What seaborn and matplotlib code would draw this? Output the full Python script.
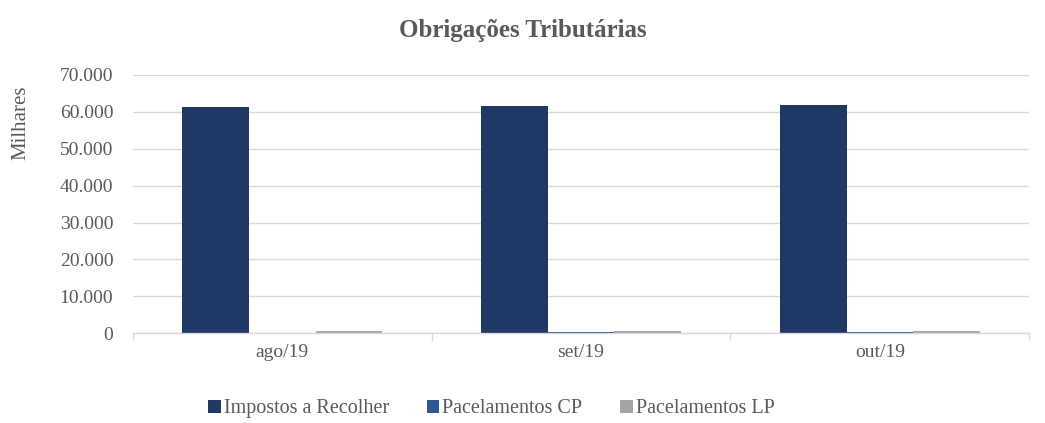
import pandas as pd
import matplotlib.pyplot as plt
import seaborn as sns
from matplotlib.ticker import FuncFormatter

months = ['ago/19', 'set/19', 'out/19']
impostos = [61350, 61600, 61800]
parc_cp = [0, 300, 300]
parc_lp = [600, 600, 600]
series = ['Impostos a Recolher', 'Pacelamentos CP', 'Pacelamentos LP']
colors = ['#203864', '#2F5597', '#A5A5A5']

df = pd.DataFrame({
    'mes': months * 3,
    'serie': [series[0]] * 3 + [series[1]] * 3 + [series[2]] * 3,
    'valor': impostos + parc_cp + parc_lp,
})

sns.set_style('white')
plt.rcParams['font.family'] = ['Liberation Serif', 'DejaVu Serif']

fig, ax = plt.subplots(figsize=(10.45, 4.23), dpi=100)
fig.subplots_adjust(left=0.127, right=0.985, top=0.823, bottom=0.212)

sns.barplot(data=df, x='mes', y='valor', hue='serie', palette=colors,
            width=0.67, saturation=1, linewidth=0, ax=ax, legend=True)

ax.set_ylim(0, 70000)
ax.set_yticks(range(0, 70001, 10000))
ax.yaxis.set_major_formatter(FuncFormatter(lambda v, p: f'{int(v):,}'.replace(',', '.')))
ax.set_xlim(-0.5, 2.5)
ax.grid(axis='y', color='#D9D9D9', linewidth=1)
ax.set_axisbelow(True)
for s in ['top', 'right', 'left']:
    ax.spines[s].set_visible(False)
ax.spines['bottom'].set_color('#D9D9D9')
ax.spines['bottom'].set_linewidth(1)

ax.tick_params(axis='y', length=0, labelsize=14, labelcolor='#595959', pad=14)
ax.tick_params(axis='x', length=0, labelsize=14, labelcolor='#595959', pad=8)
# category separators on the x axis
for b in [-0.5, 0.5, 1.5, 2.5]:
    ax.plot([b, b], [0, -0.025], transform=ax.get_xaxis_transform(),
            color='#D9D9D9', linewidth=1, clip_on=False)

ax.set_xlabel('')
ax.set_ylabel('')
fig.text(0.02, 0.71, 'Milhares', rotation=90, ha='center', va='center',
         fontsize=15, color='#595959')
fig.suptitle('Obrigações Tributárias', x=0.5, y=0.955, fontsize=18,
             fontweight='bold', color='#595959')

ax.legend(loc='upper center', bbox_to_anchor=(0.40, -0.185), ncol=3,
          frameon=False, fontsize=14.5, handlelength=0.6, handleheight=0.6,
          handletextpad=0.15, columnspacing=1.9, labelcolor='#595959')

fig.savefig('out.png', dpi=100)
